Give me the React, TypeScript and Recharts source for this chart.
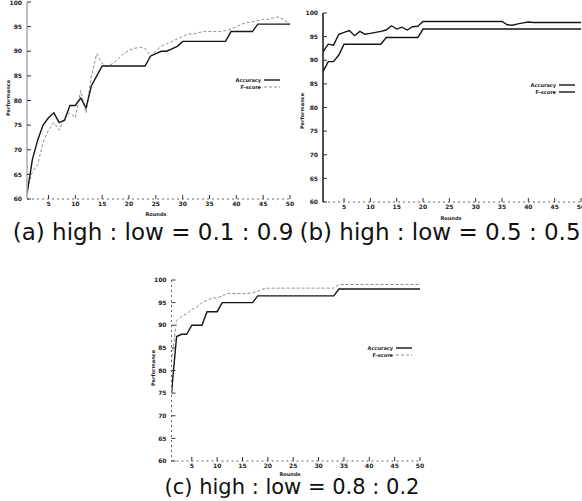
import React from "react";
import { LineChart, Line, XAxis, YAxis, Legend } from "recharts";

const rounds = [
  1, 2, 3, 4, 5, 6, 7, 8, 9, 10, 11, 12, 13, 14, 15, 16, 17, 18, 19, 20, 21, 22, 23, 24, 25,
  26, 27, 28, 29, 30, 31, 32, 33, 34, 35, 36, 37, 38, 39, 40, 41, 42, 43, 44, 45, 46, 47, 48, 49, 50,
];
const roundTicks = [5, 10, 15, 20, 25, 30, 35, 40, 45, 50];
const perfTicks = [60, 65, 70, 75, 80, 85, 90, 95, 100];

// (a) high : low = 0.1 : 0.9
const accuracyA = [
  61, 68, 72, 75, 76.5, 77.5, 75.5, 76, 79, 79, 80.5, 78.5, 83, 85, 87, 87, 87, 87, 87, 87, 87, 87, 87, 89, 89.5,
  90, 90, 90.5, 91, 92, 92, 92, 92, 92, 92, 92, 92, 92, 94, 94, 94, 94, 94, 95.5, 95.5, 95.5, 95.5, 95.5, 95.5, 95.5,
];
const fscoreA = [
  62, 65.5, 67, 71.5, 74, 75.5, 74, 76.5, 77.5, 76.5, 82, 77.5, 85, 89.5, 87.5, 87, 87.5, 88.5, 89.5, 90.2, 90.6, 90.8, 90.6, 89, 90,
  91, 91.5, 92, 92.5, 93, 93.5, 93.5, 93.8, 94, 94, 94, 94, 94.2, 94.5, 95, 95.5, 95.8, 96, 96.2, 96.5, 96.5, 96.8, 97, 96.2, 95.5,
];

// (b) high : low = 0.5 : 0.5
const accuracyB = [
  87.6, 89.7, 89.7, 91.1, 93.4, 93.4, 93.4, 93.4, 93.4, 93.4, 93.4, 93.4, 94.8, 94.8, 94.8, 94.8, 94.8, 94.8, 94.8, 96.6, 96.6, 96.6, 96.6, 96.6, 96.6,
  96.6, 96.6, 96.6, 96.6, 96.6, 96.6, 96.6, 96.6, 96.6, 96.6, 96.6, 96.6, 96.6, 96.6, 96.6, 96.6, 96.6, 96.6, 96.6, 96.6, 96.6, 96.6, 96.6, 96.6, 96.6,
];
const fscoreB = [
  91.8, 93.4, 93.2, 95.5, 95.9, 96.3, 95.2, 96.1, 95.5, 95.7, 95.9, 96.1, 96.4, 97.3, 96.6, 97, 96.4, 97.1, 97.2, 98.2, 98.2, 98.2, 98.2, 98.2, 98.2,
  98.2, 98.2, 98.2, 98.2, 98.2, 98.2, 98.2, 98.2, 98.2, 98.2, 97.5, 97.4, 97.7, 97.9, 98.1, 98, 98, 98, 98, 98, 98, 98, 98, 98, 98,
];

// (c) high : low = 0.8 : 0.2
const accuracyC = [
  75, 87.5, 88, 88, 90, 90, 90, 93, 93, 93, 95, 95, 95, 95, 95, 95, 95, 96.5, 96.5, 96.5, 96.5, 96.5, 96.5, 96.5, 96.5,
  96.5, 96.5, 96.5, 96.5, 96.5, 96.5, 96.5, 96.5, 98, 98, 98, 98, 98, 98, 98, 98, 98, 98, 98, 98, 98, 98, 98, 98, 98,
];
const fscoreC = [
  82, 91, 92, 92.5, 93.5, 94, 95, 95.5, 96, 96, 96.5, 97, 97, 97, 97, 97, 97.2, 97.5, 98, 98.2, 98.2, 98.2, 98.2, 98.2, 98.2,
  98.2, 98.2, 98.2, 98.2, 98.2, 98.2, 98.2, 98.2, 99, 99, 99, 99, 99, 99, 99, 99, 99, 99, 99, 99, 99, 99, 99, 99, 99,
];

const captions = [
  "(a) high : low = 0.1 : 0.9",
  "(b) high : low = 0.5 : 0.5",
  "(c) high : low = 0.8 : 0.2",
];

const FONT = "DejaVu Sans";
const tickStyle = { fontSize: 6, fill: "#222", fontFamily: FONT, fontWeight: 700 };

type Stroke = { stroke: string; strokeWidth: number; strokeDasharray?: string };

const LegendBox = ({ series }: { series: { name: string; s: Stroke }[] }) => (
  <div style={{ fontFamily: FONT, fontSize: 5, fontWeight: 700, color: "#222" }}>
    {series.map((it) => (
      <div key={it.name} style={{ display: "flex", justifyContent: "flex-end", alignItems: "center", height: 7 }}>
        <span style={{ marginRight: 3 }}>{it.name}</span>
        <svg width={16} height={4}>
          <line x1={0} y1={2} x2={16} y2={2} {...it.s} />
        </svg>
      </div>
    ))}
  </div>
);

const Panel = (p: any) => {
  const data = rounds.map((r, i) => ({ round: r, accuracy: p.accuracy[i], fscore: p.fscore[i] }));
  const accStroke: Stroke = { stroke: "#151515", strokeWidth: 1.4 };
  const fStroke: Stroke = p.fDark
    ? { stroke: "#151515", strokeWidth: 1.4 }
    : { stroke: "#8c8c8c", strokeWidth: 1, strokeDasharray: "3 2" };
  return (
    <>
      <div style={{ position: "absolute", left: p.left, top: p.top }}>
        <LineChart width={p.width} height={p.height} data={data} margin={p.margin}>
          <XAxis
            dataKey="round"
            type="number"
            domain={[1, 50]}
            ticks={roundTicks}
            height={p.xHeight}
            tick={tickStyle}
            tickSize={-4}
            tickMargin={7}
            tickLine={{ stroke: "#333" }}
            axisLine={p.frame.bottom}
            allowDataOverflow
          />
          <XAxis
            xAxisId="t"
            orientation="top"
            type="number"
            domain={[1, 50]}
            ticks={roundTicks}
            height={0}
            tick={false}
            tickSize={-4}
            tickLine={{ stroke: "#333" }}
            axisLine={p.frame.top}
          />
          <YAxis
            type="number"
            domain={[60, 100]}
            ticks={perfTicks}
            width={p.yWidth}
            tick={tickStyle}
            tickSize={-4}
            tickMargin={9}
            tickLine={{ stroke: "#333" }}
            axisLine={p.frame.left}
            allowDataOverflow
          />
          <YAxis
            yAxisId="r"
            orientation="right"
            type="number"
            domain={[60, 100]}
            ticks={perfTicks}
            width={0}
            tick={false}
            tickSize={-4}
            tickLine={{ stroke: "#333" }}
            axisLine={p.frame.right}
          />
          <Legend
            layout="horizontal"
            align="center"
            verticalAlign="middle"
            content={() => (
              <LegendBox
                series={[
                  { name: "Accuracy", s: accStroke },
                  { name: "F-score", s: fStroke },
                ]}
              />
            )}
            wrapperStyle={{ left: p.legend.left, top: p.legend.top, width: p.legend.width, bottom: "auto" }}
          />
          <Line dataKey="fscore" type="linear" dot={false} isAnimationActive={false} {...fStroke} />
          <Line dataKey="accuracy" type="linear" dot={false} isAnimationActive={false} {...accStroke} />
        </LineChart>
      </div>
      <div
        style={{
          position: "absolute",
          left: p.yTitle[0],
          top: p.yTitle[1],
          transform: "translate(-50%, -50%) rotate(-90deg)",
          fontFamily: FONT,
          fontSize: 5,
          fontWeight: 700,
          color: "#222",
          whiteSpace: "nowrap",
          lineHeight: 1,
        }}
      >
        Performance
      </div>
      <div
        style={{
          position: "absolute",
          left: p.xTitle[0],
          top: p.xTitle[1],
          transform: "translate(-50%, -50%)",
          fontFamily: FONT,
          fontSize: 5,
          fontWeight: 700,
          color: "#222",
          whiteSpace: "nowrap",
          lineHeight: 1,
        }}
      >
        Rounds
      </div>
      <div
        style={{
          position: "absolute",
          left: p.caption.x - 200,
          width: 400,
          top: p.caption.top,
          textAlign: "center",
          fontFamily: FONT,
          fontSize: p.caption.size,
          lineHeight: 1,
          color: "#111",
          whiteSpace: "nowrap",
        }}
      >
        {p.caption.text}
      </div>
    </>
  );
};

const dark = { stroke: "#151515", strokeWidth: 1.5 };
const dotted = { stroke: "#666", strokeWidth: 1, strokeDasharray: "2 3" };
const light = { stroke: "#aaa", strokeWidth: 1.5 };

export default function App() {
  return (
    <div
      style={{
        position: "absolute",
        left: 0,
        top: 0,
        width: 582,
        height: 501,
        overflow: "hidden",
        background: "#fff",
      }}
    >
      <Panel
        accuracy={accuracyA}
        fscore={fscoreA}
        left={0}
        top={0}
        width={300}
        height={222}
        margin={{ top: 2, right: 10, bottom: 0, left: 0 }}
        yWidth={27}
        xHeight={23}
        frame={{ left: light, right: dark, top: dotted, bottom: dotted }}
        legend={{ left: 222, top: 76, width: 58 }}
        yTitle={[8, 98]}
        xTitle={[156, 214]}
        caption={{ text: captions[0], x: 153, top: 221, size: 23 }}
      />
      <Panel
        accuracy={accuracyB}
        fscore={fscoreB}
        fDark
        left={296}
        top={0}
        width={290}
        height={222}
        margin={{ top: 13, right: 5, bottom: 0, left: 0 }}
        yWidth={27}
        xHeight={20}
        frame={{ left: dark, right: dark, top: dark, bottom: dotted }}
        legend={{ left: 219, top: 81, width: 60 }}
        yTitle={[302, 111]}
        xTitle={[451, 218]}
        caption={{ text: captions[1], x: 440, top: 221, size: 23 }}
      />
      <Panel
        accuracy={accuracyC}
        fscore={fscoreC}
        left={145}
        top={270}
        width={285}
        height={211}
        margin={{ top: 10, right: 10, bottom: 0, left: 0 }}
        yWidth={26.5}
        xHeight={20}
        frame={{ left: dotted, right: dotted, top: dark, bottom: dotted }}
        legend={{ left: 210, top: 74, width: 57 }}
        yTitle={[153, 368]}
        xTitle={[290, 474]}
        caption={{ text: captions[2], x: 292, top: 477, size: 21 }}
      />
    </div>
  );
}
